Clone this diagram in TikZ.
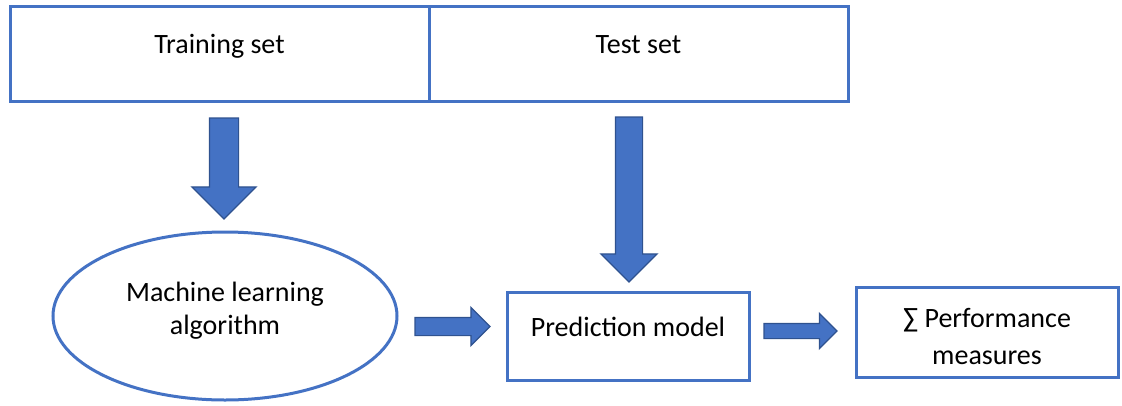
\documentclass[tikz,border=0pt]{standalone}
\usepackage{fontspec}
\setmainfont{Carlito}
\usepackage{xcolor}
\usepackage{tikz}
\usetikzlibrary{positioning, shapes.geometric, shapes.arrows}

\definecolor{boxblue}{HTML}{4472C4}
\definecolor{arrowedge}{HTML}{2F528F}

\begin{document}
\begin{tikzpicture}[
  x=1pt, y=-1pt,
  box/.style={rectangle, draw=boxblue, line width=3pt, outer sep=0pt, inner sep=0pt,
    align=center, font=\fontsize{28}{35}\selectfont},
  toptext/.style={text height=20pt, text depth=20pt},
  bigarrow/.style={single arrow, draw=arrowedge, fill=boxblue, line width=1.2pt,
    inner xsep=0pt, outer sep=0pt, anchor=tail}
]
  \useasboundingbox (0,0) rectangle (1122,405);

  \node[box, toptext, minimum width=419pt, minimum height=95pt] (train) at (219.5,53.5) {Training set};
  \node[box, toptext, minimum width=419pt, minimum height=95pt, right=0pt of train] (test) {Test set};
  \node[box, ellipse, minimum width=344pt, minimum height=168pt, text depth=15pt,
    font=\fontsize{28}{33}\selectfont] (ml) at (225,316) {Machine learning\\algorithm};
  \node[box, toptext, minimum width=242pt, minimum height=88pt] (pred) at (628,336) {Prediction model};
  \node[box, minimum width=262pt, minimum height=90pt, text height=65pt,
    font=\fontsize{28}{37}\selectfont] (perf) at (987,332) {∑ Performance\\measures};

  % block arrows
  \node[bigarrow, rotate=-90, minimum height=101pt, inner ysep=14pt,
    single arrow head extend=17.5pt] (a1) at ([xshift=4.5pt, yshift=-17pt]train.south) {};
  \node[bigarrow, rotate=-90, minimum height=165pt, inner ysep=13pt,
    single arrow head extend=14.5pt] (a2) at ([xshift=-9.5pt, yshift=-16pt]test.south) {};
  \node[bigarrow, minimum height=75pt, inner ysep=8.5pt,
    single arrow head extend=10pt] (a3) at ([xshift=18pt, yshift=-10.5pt]ml.east) {};
  \node[bigarrow, minimum height=73pt, inner ysep=7pt,
    single arrow head extend=10pt] (a4) at ([xshift=15pt, yshift=5pt]pred.east) {};
\end{tikzpicture}
\end{document}
